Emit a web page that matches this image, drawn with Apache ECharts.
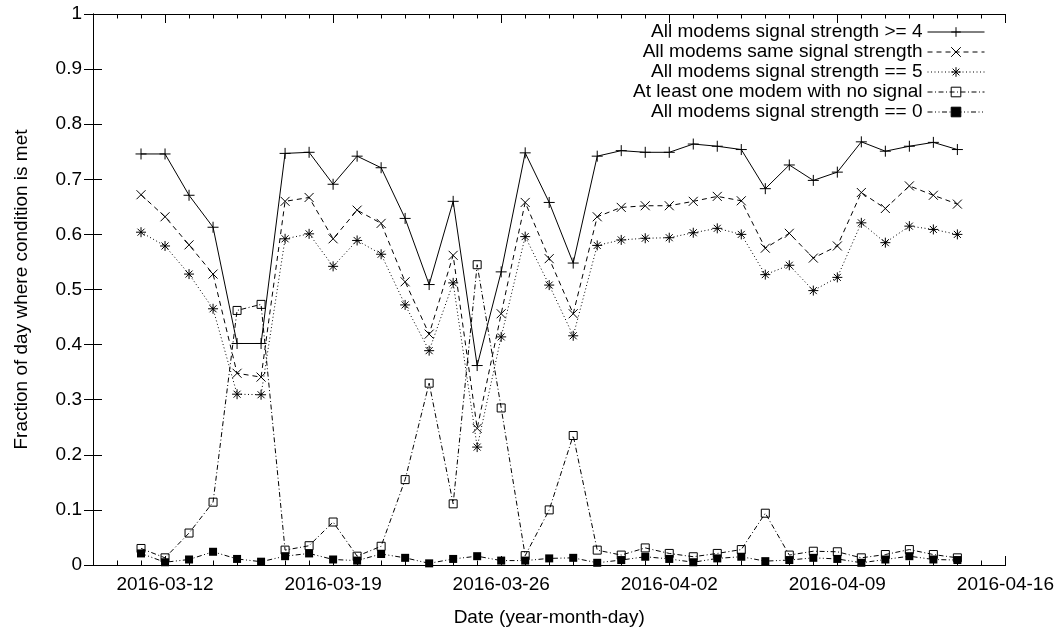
<!DOCTYPE html>
<html>
<head>
<meta charset="utf-8">
<title>Modem signal strength per day</title>
<script src="https://cdn.jsdelivr.net/npm/echarts@6/dist/echarts.min.js"></script>
<style>
  html, body { margin: 0; padding: 0; background: #fff; }
  #chart { width: 1057px; height: 632px; }
</style>
</head>
<body>
<div id="chart"></div>
<script>
// Days covered by the measurements
const dates = [
  '2016-03-11','2016-03-12','2016-03-13','2016-03-14','2016-03-15','2016-03-16','2016-03-17',
  '2016-03-18','2016-03-19','2016-03-20','2016-03-21','2016-03-22','2016-03-23','2016-03-24',
  '2016-03-25','2016-03-26','2016-03-27','2016-03-28','2016-03-29','2016-03-30','2016-03-31',
  '2016-04-01','2016-04-02','2016-04-03','2016-04-04','2016-04-05','2016-04-06','2016-04-07',
  '2016-04-08','2016-04-09','2016-04-10','2016-04-11','2016-04-12','2016-04-13','2016-04-14'
];

// Fraction of each day where the condition holds
const strengthAtLeast4 = [
  0.746, 0.746, 0.671, 0.613, 0.402, 0.402, 0.747, 0.749, 0.691, 0.742, 0.721, 0.629, 0.509, 0.660,
  0.362, 0.532, 0.748, 0.658, 0.548, 0.742, 0.752, 0.749, 0.749, 0.764, 0.760, 0.754, 0.683, 0.726,
  0.698, 0.713, 0.768, 0.751, 0.760, 0.767, 0.754
];
const sameStrength = [
  0.672, 0.632, 0.581, 0.528, 0.348, 0.341, 0.660, 0.667, 0.592, 0.644, 0.620, 0.514, 0.419, 0.562,
  0.248, 0.456, 0.658, 0.556, 0.456, 0.632, 0.649, 0.652, 0.652, 0.660, 0.669, 0.661, 0.575, 0.602,
  0.557, 0.579, 0.676, 0.647, 0.688, 0.671, 0.655
];
const strengthEquals5 = [
  0.604, 0.579, 0.528, 0.465, 0.310, 0.309, 0.592, 0.601, 0.542, 0.589, 0.564, 0.472, 0.389, 0.512,
  0.214, 0.414, 0.596, 0.508, 0.416, 0.580, 0.590, 0.593, 0.594, 0.603, 0.611, 0.600, 0.527, 0.544,
  0.498, 0.522, 0.621, 0.585, 0.615, 0.609, 0.600
];
const oneWithoutSignal = [
  0.030, 0.013, 0.058, 0.114, 0.462, 0.473, 0.027, 0.035, 0.078, 0.016, 0.034, 0.155, 0.330, 0.111,
  0.545, 0.285, 0.017, 0.100, 0.235, 0.027, 0.018, 0.031, 0.021, 0.015, 0.021, 0.028, 0.094, 0.018,
  0.025, 0.024, 0.013, 0.019, 0.028, 0.019, 0.013
];
const strengthEquals0 = [
  0.021, 0.005, 0.010, 0.024, 0.011, 0.006, 0.016, 0.021, 0.010, 0.008, 0.020, 0.013, 0.003, 0.011,
  0.016, 0.008, 0.008, 0.012, 0.013, 0.004, 0.009, 0.015, 0.011, 0.005, 0.012, 0.015, 0.007, 0.009,
  0.013, 0.011, 0.004, 0.010, 0.016, 0.010, 0.009
];

// Axis range and labelled (weekly) ticks
const axisStart = '2016-03-09';
const axisEnd = '2016-04-16';
const weekLabels = ['2016-03-12', '2016-03-19', '2016-03-26', '2016-04-02', '2016-04-09', '2016-04-16'];

const DAY = 86400000;
const dayOffset = d => Math.round((Date.parse(d) - Date.parse(axisStart)) / DAY);
const xMax = dayOffset(axisEnd);
const majorDays = weekLabels.map(dayOffset);
const minorDays = [];
for (let i = 0; i <= xMax; i++) minorDays.push(i);
const labelByDay = {};
weekLabels.forEach(l => { labelByDay[dayOffset(l)] = l; });

const pairs = values => values.map((v, i) => [dayOffset(dates[i]), v]);

const FONT = "'Liberation Sans', Arial, sans-serif";
const INK = '#000';

const xBase = {
  type: 'value', min: 0, max: xMax,
  splitLine: { show: false },
  axisLine: { show: true, onZero: false, lineStyle: { color: INK, width: 1 } },
  axisLabel: { show: false }
};

const seriesDefs = [
  { name: 'All modems signal strength >= 4', data: strengthAtLeast4,
    symbol: 'path://M0,5H10M5,0V10', size: 11, dash: 'solid', fill: INK },
  { name: 'All modems same signal strength', data: sameStrength,
    symbol: 'path://M0,0L10,10M10,0L0,10', size: 9, dash: [5, 4], fill: INK },
  { name: 'All modems signal strength == 5', data: strengthEquals5,
    symbol: 'path://M0,5H10M5,0V10M1.5,1.5L8.5,8.5M8.5,1.5L1.5,8.5', size: 10, dash: [1, 2.5], fill: INK },
  { name: 'At least one modem with no signal', data: oneWithoutSignal,
    symbol: 'path://M0,0H10V10H0Z', size: 8, dash: [5, 2.5, 1, 2.5], fill: 'none' },
  { name: 'All modems signal strength == 0', data: strengthEquals0,
    symbol: 'rect', size: 8, dash: [5, 2.5, 1, 2.5, 1, 2.5], fill: INK }
];

const chart = echarts.init(document.getElementById('chart'), null, { renderer: 'canvas' });

chart.setOption({
  animation: false,
  backgroundColor: '#fff',
  textStyle: { fontFamily: FONT, color: INK },
  grid: { left: 93, top: 14, width: 913, height: 555 },
  legend: {
    orient: 'vertical',
    right: 72,
    top: 22,
    align: 'right',
    padding: 0,
    itemWidth: 57,
    itemHeight: 12,
    itemGap: 0,
    selectedMode: false,
    lineStyle: { width: 1 },
    itemStyle: { borderWidth: 1 },
    textStyle: { fontFamily: FONT, fontSize: 19, color: INK, lineHeight: 20 },
    data: seriesDefs.map(s => s.name)
  },
  xAxis: [
    Object.assign({}, xBase, {
      position: 'bottom',
      name: 'Date (year-month-day)',
      nameLocation: 'middle',
      nameGap: 43,
      nameTextStyle: { fontFamily: FONT, fontSize: 19, color: INK },
      axisTick: { show: true, inside: true, length: 9, customValues: majorDays, lineStyle: { color: INK } },
      axisLabel: {
        show: true, customValues: majorDays, margin: 10,
        fontFamily: FONT, fontSize: 19, color: INK,
        formatter: v => labelByDay[Math.round(v)] || ''
      }
    }),
    Object.assign({}, xBase, {
      position: 'bottom',
      axisTick: { show: true, inside: true, length: 4.5, customValues: minorDays, lineStyle: { color: INK } }
    }),
    Object.assign({}, xBase, {
      position: 'top',
      axisTick: { show: true, inside: true, length: 9, customValues: majorDays, lineStyle: { color: INK } }
    }),
    Object.assign({}, xBase, {
      position: 'top',
      axisTick: { show: true, inside: true, length: 4.5, customValues: minorDays, lineStyle: { color: INK } }
    })
  ],
  yAxis: [
    {
      type: 'value', min: 0, max: 1, interval: 0.1, position: 'left',
      name: 'Fraction of day where condition is met',
      nameLocation: 'middle',
      nameGap: 62,
      nameTextStyle: { fontFamily: FONT, fontSize: 19, color: INK },
      splitLine: { show: false },
      axisLine: { show: true, lineStyle: { color: INK, width: 1 } },
      axisTick: { show: true, inside: true, length: 9, lineStyle: { color: INK } },
      axisLabel: { margin: 11, fontFamily: FONT, fontSize: 19, color: INK }
    },
    {
      type: 'value', min: 0, max: 1, interval: 0.1, position: 'right',
      splitLine: { show: false },
      axisLine: { show: true, lineStyle: { color: INK, width: 1 } },
      axisTick: { show: true, inside: true, length: 9, lineStyle: { color: INK } },
      axisLabel: { show: false }
    }
  ],
  series: seriesDefs.map(s => ({
    name: s.name,
    type: 'line',
    xAxisIndex: 0,
    yAxisIndex: 0,
    data: pairs(s.data),
    symbol: s.symbol,
    symbolSize: s.size,
    showSymbol: true,
    showAllSymbol: true,
    silent: true,
    lineStyle: { color: INK, width: 1, type: s.dash },
    itemStyle: { color: s.fill, borderColor: INK, borderWidth: s.symbol === 'rect' ? 0 : 1 },
    emphasis: { disabled: true }
  }))
});
</script>
</body>
</html>
